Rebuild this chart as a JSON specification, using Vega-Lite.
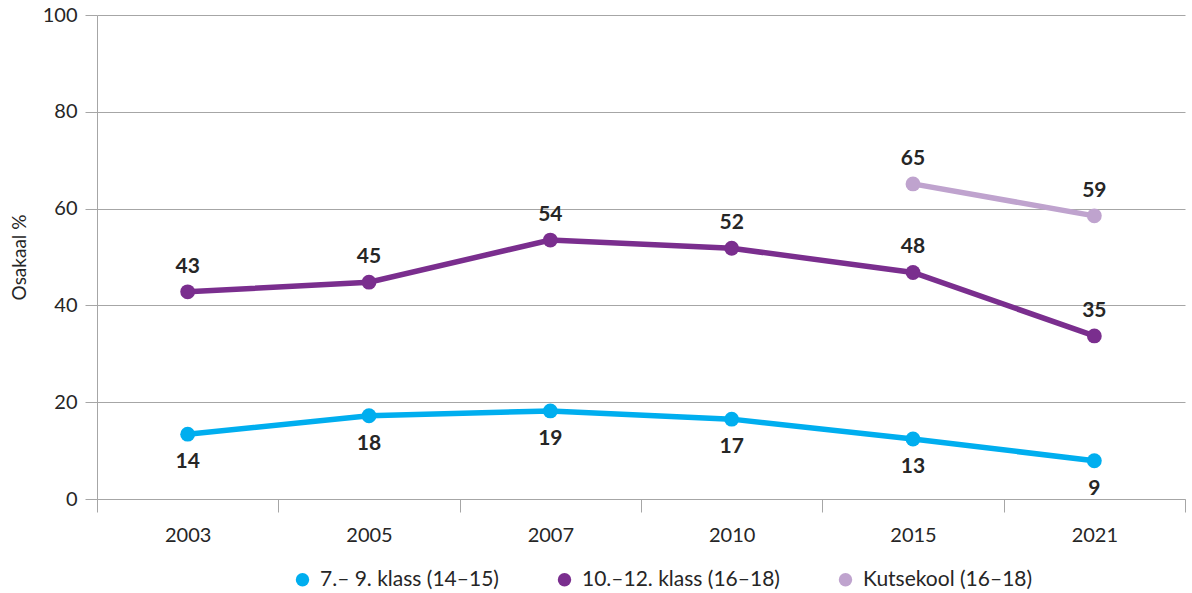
{
  "$schema": "https://vega.github.io/schema/vega-lite/v6.json",
  "autosize": {"type": "none"},
  "width": 1088,
  "height": 484,
  "padding": {"left": 97, "top": 15, "right": 7, "bottom": 94},
  "background": "white",
  "config": {
    "font": "Lato",
    "view": {"stroke": null}
  },
  "data": {
    "values": [
      {"series": "7.– 9. klass (14–15)", "year": "2003", "value": 13.4, "label": "14"},
      {"series": "7.– 9. klass (14–15)", "year": "2005", "value": 17.2, "label": "18"},
      {"series": "7.– 9. klass (14–15)", "year": "2007", "value": 18.2, "label": "19"},
      {"series": "7.– 9. klass (14–15)", "year": "2010", "value": 16.5, "label": "17"},
      {"series": "7.– 9. klass (14–15)", "year": "2015", "value": 12.4, "label": "13"},
      {"series": "7.– 9. klass (14–15)", "year": "2021", "value": 7.9, "label": "9"},
      {"series": "10.–12. klass (16–18)", "year": "2003", "value": 42.8, "label": "43"},
      {"series": "10.–12. klass (16–18)", "year": "2005", "value": 44.8, "label": "45"},
      {"series": "10.–12. klass (16–18)", "year": "2007", "value": 53.5, "label": "54"},
      {"series": "10.–12. klass (16–18)", "year": "2010", "value": 51.8, "label": "52"},
      {"series": "10.–12. klass (16–18)", "year": "2015", "value": 46.8, "label": "48"},
      {"series": "10.–12. klass (16–18)", "year": "2021", "value": 33.7, "label": "35"},
      {"series": "Kutsekool (16–18)", "year": "2015", "value": 65.1, "label": "65"},
      {"series": "Kutsekool (16–18)", "year": "2021", "value": 58.5, "label": "59"}
    ]
  },
  "encoding": {
    "x": {
      "field": "year",
      "type": "ordinal",
      "scale": {"type": "band", "paddingInner": 0, "paddingOuter": 0},
      "axis": {
        "title": null,
        "labelAngle": 0,
        "labelFontSize": 20,
        "labelColor": "#262626",
        "labelPadding": 13,
        "tickBand": "extent",
        "tickSize": 13,
        "tickColor": "#a6a6a6",
        "domainColor": "#a6a6a6",
        "grid": false
      }
    },
    "y": {
      "field": "value",
      "type": "quantitative",
      "scale": {"domain": [0, 100]},
      "axis": {
        "title": "Osakaal %",
        "titleFontSize": 19,
        "titleFontWeight": "normal",
        "titleColor": "#262626",
        "titlePadding": 13,
        "values": [0, 20, 40, 60, 80, 100],
        "labelFontSize": 20,
        "labelColor": "#262626",
        "labelPadding": 8,
        "tickSize": 12,
        "tickColor": "#a6a6a6",
        "domainColor": "#a6a6a6",
        "gridColor": "#a6a6a6",
        "grid": true
      }
    }
  },
  "layer": [
    {
      "mark": {"type": "line", "strokeWidth": 5.5},
      "encoding": {
        "color": {
          "field": "series",
          "type": "nominal",
          "scale": {
            "domain": ["7.– 9. klass (14–15)", "10.–12. klass (16–18)", "Kutsekool (16–18)"],
            "range": ["#00AEEF", "#7A2E8E", "#BFA3CE"]
          },
          "legend": {
            "title": null,
            "orient": "none",
            "legendX": 195,
            "legendY": 554,
            "direction": "horizontal",
            "symbolType": "circle",
            "symbolSize": 180,
            "symbolStrokeWidth": 0,
            "labelFontSize": 21,
            "labelLimit": 0,
            "labelColor": "#262626",
            "columnPadding": 55,
            "labelOffset": 7
          }
        }
      }
    },
    {
      "mark": {"type": "point", "filled": true, "size": 220, "opacity": 1},
      "encoding": {
        "color": {"field": "series", "type": "nominal", "legend": null}
      }
    },
    {
      "transform": [{"filter": "datum.series !== '7.– 9. klass (14–15)'"}],
      "mark": {"type": "text", "dy": -25, "fontSize": 21, "fontWeight": "bold", "color": "#262626"},
      "encoding": {"text": {"field": "label"}}
    },
    {
      "transform": [{"filter": "datum.series === '7.– 9. klass (14–15)'"}],
      "mark": {"type": "text", "dy": 28, "fontSize": 21, "fontWeight": "bold", "color": "#262626"},
      "encoding": {"text": {"field": "label"}}
    }
  ]
}
